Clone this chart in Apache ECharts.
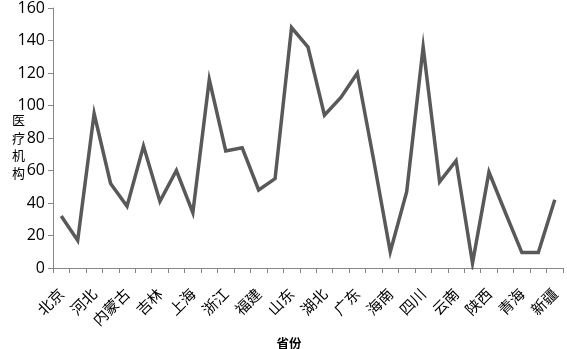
<!DOCTYPE html>
<html><head><meta charset="utf-8">
<script src="https://cdn.jsdelivr.net/npm/echarts@6/dist/echarts.min.js"></script>
<style>html,body{margin:0;padding:0;background:#fff}#c{width:567px;height:349px}</style>
</head><body><div id="c"></div>
<script>
const categories = ['北京','天津','河北','山西','内蒙古','辽宁','吉林','黑龙江','上海','江苏','浙江','安徽','福建','江西','山东','河南','湖北','湖南','广东','广西','海南','重庆','四川','贵州','云南','西藏','陕西','甘肃','青海','宁夏','新疆'];
const values = [32,17,95,52,38,75,41,60,34,116,72,74,48,55,148,136,94,105,120,66,10,47,136,53,66,3,59,34,9.5,9.5,42];
const yTicks = {min:0, max:160, interval:20};

const chart = echarts.init(document.getElementById('c'), null, {renderer:'canvas'});
chart.setOption({
  animation:false,
  grid:{left:53, right:4, top:8, bottom:81, containLabel:false, outerBoundsMode:'none'},
  xAxis:{
    type:'category', data:categories, boundaryGap:true,
    name:'省份', nameLocation:'middle', nameGap:69,
    nameTextStyle:{fontFamily:'Noto Sans CJK SC', fontSize:12.5, color:'#000', fontWeight:'bold', padding:[0,38,0,0]},
    axisLine:{lineStyle:{color:'#868686', width:1}},
    axisTick:{show:true, interval:0, length:5, lineStyle:{color:'#868686'}},
    axisLabel:{interval:1, rotate:45, margin:23, fontFamily:'Noto Sans CJK SC', fontSize:15, color:'#000'}
  },
  yAxis:{
    type:'value', min:yTicks.min, max:yTicks.max, interval:yTicks.interval,
    name:'\n医\n疗\n机\n构', nameLocation:'middle', nameRotate:0, nameGap:28, nameMoveOverlap:false,
    nameTextStyle:{fontFamily:'Noto Sans CJK SC', fontSize:13, color:'#000', lineHeight:17.5},
    axisLine:{show:true, lineStyle:{color:'#868686', width:1}},
    axisTick:{show:true, length:5, lineStyle:{color:'#868686'}},
    splitLine:{show:false},
    axisLabel:{fontFamily:'Open Sans', fontSize:16, color:'#000', margin:8}
  },
  series:[{
    type:'line', data:values, symbol:'none',
    lineStyle:{color:'#595959', width:3.5, join:'miter'}
  }]
});
</script></body></html>
